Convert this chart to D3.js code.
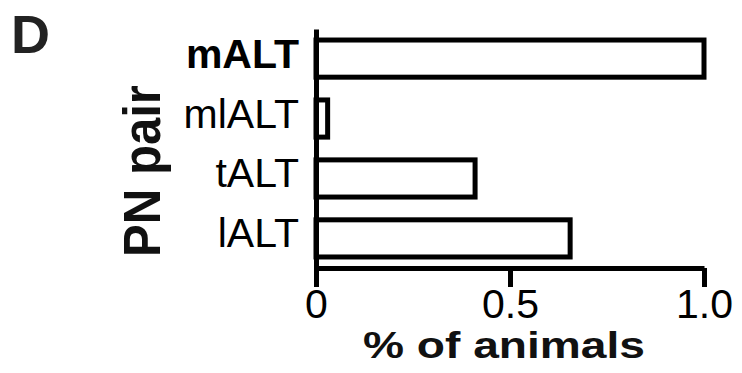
<!DOCTYPE html>
<html>
<head>
<meta charset="utf-8">
<script src="https://cdn.jsdelivr.net/npm/d3@7"></script>
<style>
  html, body { margin: 0; padding: 0; background: #fff; }
  svg { display: block; font-family: "Liberation Sans", Arial, Helvetica, sans-serif; }
</style>
</head>
<body>
<svg id="chart" width="742" height="373"></svg>
<script>
// PN pairs and the fraction of animals in which each pair was found
const categories = ["mALT", "mlALT", "tALT", "lALT"];
const boldCategories = ["mALT"];
const values = [1.0, 0.03, 0.41, 0.655];
const xTicks = [0, 0.5, 1];
const xTickLabels = ["0", "0.5", "1.0"];

const svg = d3.select("#chart");
const W = 742, H = 373;

const x = d3.scaleLinear().domain([0, 1]).range([316, 704]);
const y = d3.scaleBand()
  .domain(categories)
  .range([29, 268])
  .paddingInner(0.38)
  .paddingOuter(0.184);

const axisY = 268;
const strokeW = 5;

svg.append("rect").attr("width", W).attr("height", H).attr("fill", "#fff");

// bars
svg.append("g")
  .selectAll("rect")
  .data(categories.map((c, i) => ({ c, v: values[i] })))
  .join("rect")
  .attr("x", x(0))
  .attr("y", d => y(d.c))
  .attr("width", d => x(d.v) - x(0))
  .attr("height", y.bandwidth())
  .attr("fill", "#fff")
  .attr("stroke", "#000")
  .attr("stroke-width", strokeW);

// y axis with category labels
const gy = svg.append("g")
  .attr("transform", `translate(${x(0)},0)`)
  .call(d3.axisLeft(y).tickSize(0).tickSizeOuter(0).tickPadding(17));
gy.select(".domain").attr("stroke", "#000").attr("stroke-width", strokeW);
gy.selectAll(".tick text")
  .attr("fill", "#000")
  .attr("font-size", 41)
  .attr("dy", "0.22em")
  .attr("font-weight", d => boldCategories.includes(d) ? "bold" : "normal");

// x axis
const gx = svg.append("g")
  .attr("transform", `translate(0,${axisY})`)
  .call(d3.axisBottom(x)
    .tickValues(xTicks)
    .tickFormat((d, i) => xTickLabels[i])
    .tickSize(19)
    .tickSizeOuter(0)
    .tickPadding(2));
gx.select(".domain").attr("stroke", "#000").attr("stroke-width", strokeW);
gx.selectAll(".tick line").attr("stroke", "#000").attr("stroke-width", strokeW);
gx.selectAll(".tick text").attr("fill", "#000").attr("font-size", 41);

// axis titles
svg.append("text")
  .attr("x", 504)
  .attr("y", 358)
  .attr("text-anchor", "middle")
  .attr("font-weight", "bold")
  .attr("font-size", 37)
  .attr("textLength", 282)
  .attr("lengthAdjust", "spacingAndGlyphs")
  .attr("fill", "#111")
  .text("% of animals");

svg.append("text")
  .attr("transform", "translate(160,171) rotate(-90)")
  .attr("text-anchor", "middle")
  .attr("font-weight", "bold")
  .attr("font-size", 51)
  .attr("textLength", 172)
  .attr("lengthAdjust", "spacingAndGlyphs")
  .attr("fill", "#111")
  .text("PN pair");

// panel letter
svg.append("text")
  .attr("x", 11)
  .attr("y", 53)
  .attr("font-weight", "bold")
  .attr("font-size", 54)
  .attr("fill", "#222")
  .text("D");
</script>
</body>
</html>
